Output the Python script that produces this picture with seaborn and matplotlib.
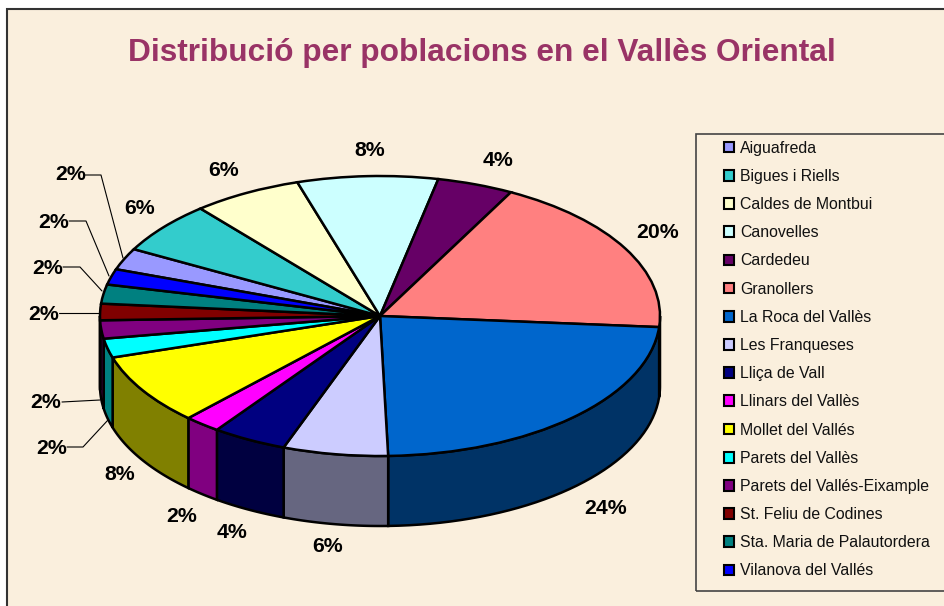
import numpy as np
import seaborn as sns
import matplotlib.pyplot as plt
from matplotlib.patches import Rectangle

# Data
towns = ['Aiguafreda', 'Bigues i Riells', 'Caldes de Montbui', 'Canovelles', 'Cardedeu',
         'Granollers', 'La Roca del Vallès', 'Les Franqueses', 'Lliça de Vall',
         'Llinars del Vallès', 'Mollet del Vallés', 'Parets del Vallès',
         'Parets del Vallés-Eixample', 'St. Feliu de Codines',
         'Sta. Maria de Palautordera', 'Vilanova del Vallés']
# slice shares as they appear on the tilted pie
shares = [2.5, 6.0, 6.3, 8.1, 4.4, 18.5, 23.25, 6.05, 4.3, 2.1, 8.2, 2.2, 2.1, 1.9, 2.2, 1.8]
printed = ['2%', '6%', '6%', '8%', '4%', '20%', '24%', '6%', '4%', '2%', '8%', '2%', '2%', '2%', '2%', '2%']
colors = ['#9999FF', '#33CCCC', '#FFFFCC', '#CCFFFF', '#660066', '#FF8080', '#0066CC', '#CCCCFF',
          '#000080', '#FF00FF', '#FFFF00', '#00FFFF', '#800080', '#800000', '#008080', '#0000FF']
title = 'Distribució per poblacions en el Vallès Oriental'

# Layout, in pixels of the picture
W, H = 945, 606
CX, CY, RX, RY, DEPTH = 380, 316, 280, 140, 70
START = 160.5
label_px = [(71, 175), (140, 208), (224, 171), (370, 151), (498, 160), (658, 233), (606, 509), (328, 547),
            (232, 533), (182, 516), (120, 475), (52, 448), (46, 402), (44, 314), (48, 268), (54, 222)]
leaders_px = [[(85, 175), (101, 175), (123, 258)],
              [(69, 221), (86, 221), (109, 276)],
              [(63, 267), (80, 267), (102, 291)],
              [(59, 313), (99, 313)],
              [(62, 402), (100, 400)],
              [(67, 447), (83, 447), (108, 420)]]


def px(x, y):
    return (x - CX) / RX, (CY - y) / RY


sns.set_theme(style='white')
plt.rcParams['font.family'] = ['Liberation Sans', 'DejaVu Sans']

fig = plt.figure(figsize=(W / 100, H / 100), dpi=100, facecolor='white')
ax = fig.add_axes([0, 0, 1, 1])

# Top of the pie
wedges, _ = ax.pie(shares, colors=sns.color_palette(colors), startangle=START, counterclock=False,
                   wedgeprops={'edgecolor': 'black', 'linewidth': 1.8, 'zorder': 3})
ax.set_aspect('auto')
ax.set_xlim(px(0, 0)[0], px(W, 0)[0])
ax.set_ylim(px(0, H)[1], px(0, 0)[1])
ax.axis('on')
for s in ax.spines.values():
    s.set_visible(False)

# Parchment panel and its border
ax.add_patch(Rectangle(px(7, H + 20), (W + 20 - 7) / RX, (H + 20 - 9) / RY, facecolor='#FAEFDD',
                       edgecolor='#333333', linewidth=1.5, zorder=0))

# Side wall: front half of each slice at half brightness
edges = START - np.cumsum([0] + shares) / sum(shares) * 360
depth = DEPTH / RY
for i, c in enumerate(sns.color_palette(colors)):
    a0, a1 = edges[i], edges[i + 1]
    # keep only the part of the slice that faces the viewer (-180..0 degrees)
    for shift in (0, -360):
        hi, lo = min(a0 + shift, 0), max(a1 + shift, -180)
        if hi <= lo:
            continue
        t = np.radians(np.linspace(hi, lo, 40))
        xs = np.r_[np.cos(t), np.cos(t[::-1])]
        ys = np.r_[np.sin(t), np.sin(t[::-1]) - depth]
        ax.fill(xs, ys, facecolor=np.array(c) * 0.5, edgecolor='black', linewidth=1.8, zorder=2)

# Percent labels and leader lines
for lab, (x, y) in zip(printed, label_px):
    ax.text(*px(x, y), lab, ha='center', va='center', fontsize=15.3, fontweight='bold', color='black', zorder=5)
for pts in leaders_px:
    xs, ys = zip(*[px(*p) for p in pts])
    ax.plot(xs, ys, color='black', lw=0.8, zorder=4)

# Title
ax.text(*px(482, 53), title, ha='center', va='center', fontsize=22.8, fontweight='bold', color='#993366', zorder=5)

# Legend box runs off the right side of the picture
ax.add_patch(Rectangle(px(696, 591), (W + 20 - 696) / RX, (591 - 134) / RY, facecolor='none',
                       edgecolor='#444444', linewidth=1.2, zorder=4))
leg = ax.legend(wedges, towns, loc='upper left', bbox_to_anchor=(717 / W, 1 - 134 / H), frameon=False,
                fontsize=11.4, labelcolor='#111111', handlelength=0.66, handleheight=0.66, handletextpad=0.37,
                labelspacing=0.833, borderpad=0.42, borderaxespad=0)
for h in leg.legend_handles:
    h.set_edgecolor('black')
    h.set_linewidth(1.5)

fig.savefig('out.png', dpi=100)
